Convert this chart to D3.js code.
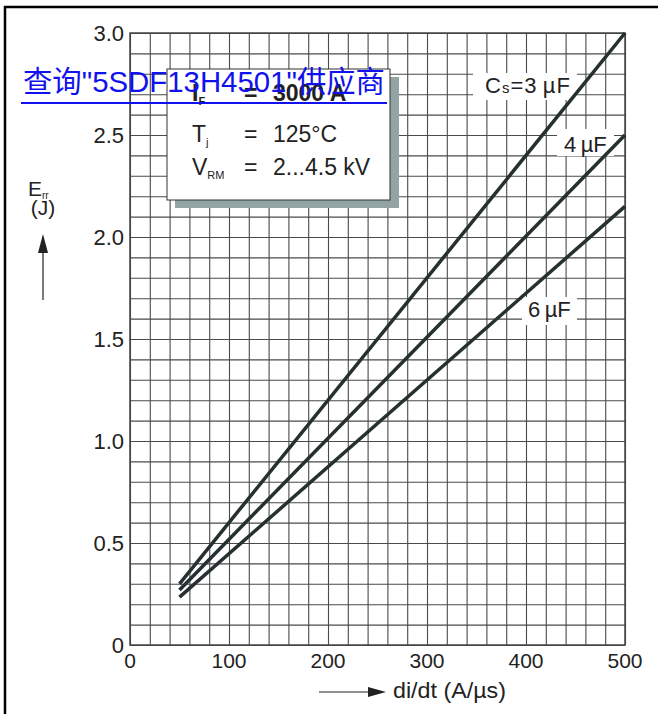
<!DOCTYPE html>
<html>
<head>
<meta charset="utf-8">
<style>
  body { margin: 0; background: #fff; }
  svg text { font-family: "Liberation Sans", Arial, sans-serif; fill: #222; }
</style>
</head>
<body>
<svg width="658" height="714"></svg>
<script src="https://d3js.org/d3.v7.min.js"></script>
<script>
// di/dt (A/us) endpoints, energy Err in J
var diDt = [50, 500];
var err3uF = [0.30, 3.0];
var err4uF = [0.27, 2.5];
var err6uF = [0.235, 2.15];
var xTicks = [0, 100, 200, 300, 400, 500];
var yTicks = [0, 0.5, 1.0, 1.5, 2.0, 2.5, 3.0];
var yTickLabels = ["0", "0.5", "1.0", "1.5", "2.0", "2.5", "3.0"];

var svg = d3.select("svg");
var pLeft = 130, pRight = 625, pTop = 33, pBottom = 645;

var x = d3.scaleLinear().domain([0, 500]).range([pLeft, pRight]);
var y = d3.scaleLinear().domain([0, 3]).range([pBottom, pTop]);

// page frame
svg.append("line").attr("x1", 5).attr("x2", 5).attr("y1", 6).attr("y2", 714)
  .attr("stroke", "#000").attr("stroke-width", 2.5);
svg.append("line").attr("x1", 4).attr("x2", 658).attr("y1", 7).attr("y2", 7)
  .attr("stroke", "#000").attr("stroke-width", 2.5);

// grid
var grid = svg.append("g");
grid.append("g").attr("transform", "translate(0," + pBottom + ")")
  .call(d3.axisBottom(x).tickValues(d3.range(0, 501, 20)).tickSize(-(pBottom - pTop)).tickFormat(""));
grid.append("g").attr("transform", "translate(" + pLeft + ",0)")
  .call(d3.axisLeft(y).tickValues(d3.range(0, 31).map(function(i) { return i / 10; })).tickSize(-(pRight - pLeft)).tickFormat(""));
grid.selectAll(".domain").remove();
grid.selectAll("line").attr("stroke", "#4a4a4a").attr("stroke-width", 1.1);
svg.append("rect").attr("x", pLeft).attr("y", pTop).attr("width", pRight - pLeft).attr("height", pBottom - pTop)
  .attr("fill", "none").attr("stroke", "#444").attr("stroke-width", 1.5);

// tick labels
svg.append("g").selectAll("text").data(xTicks).join("text")
  .attr("x", function(d) { return x(d); }).attr("y", 668)
  .attr("text-anchor", "middle").style("font-size", "21px")
  .text(function(d) { return d; });
svg.append("g").selectAll("text").data(yTicks).join("text")
  .attr("x", 124).attr("y", function(d) { return y(d) + 8; })
  .attr("text-anchor", "end").style("font-size", "22px")
  .text(function(d, i) { return yTickLabels[i]; });

// axis titles
var yt = svg.append("text").attr("x", 28).attr("y", 196).style("font-size", "21px");
yt.append("tspan").text("E");
yt.append("tspan").attr("dy", 3).style("font-size", "10px").text("rr");
svg.append("text").attr("x", 43).attr("y", 215).attr("text-anchor", "middle")
  .style("font-size", "21px").text("(J)");
svg.append("line").attr("x1", 43).attr("x2", 43).attr("y1", 300).attr("y2", 250)
  .attr("stroke", "#222").attr("stroke-width", 1.2);
svg.append("path").attr("d", "M43,234 L48,253 L38,253 Z").attr("fill", "#222");

svg.append("line").attr("x1", 319).attr("x2", 372).attr("y1", 692).attr("y2", 692)
  .attr("stroke", "#222").attr("stroke-width", 1.2);
svg.append("path").attr("d", "M386,692 L368,687 L368,697 Z").attr("fill", "#222");
svg.append("text").attr("x", 393).attr("y", 698).style("font-size", "22px")
  .attr("textLength", 113).attr("lengthAdjust", "spacingAndGlyphs").text("di/dt (A/\u00b5s)");

// curve label backgrounds
var labels = [
  { x0: 473, y0: 73, w: 104, h: 27 },
  { x0: 557, y0: 129, w: 57, h: 27 },
  { x0: 522, y0: 297, w: 55, h: 28 }
];
svg.append("g").selectAll("rect").data(labels).join("rect")
  .attr("x", function(d) { return d.x0; }).attr("y", function(d) { return d.y0; })
  .attr("width", function(d) { return d.w; }).attr("height", function(d) { return d.h; })
  .attr("fill", "#fff");

// curves
var line = d3.line().x(function(d) { return x(d[0]); }).y(function(d) { return y(d[1]); });
[err3uF, err4uF, err6uF].forEach(function(s) {
  svg.append("path").datum(diDt.map(function(v, i) { return [v, s[i]]; }))
    .attr("d", line).attr("fill", "none").attr("stroke", "#263030").attr("stroke-width", 3.5);
});

// curve labels
var c3 = svg.append("text").attr("x", 485).attr("y", 93).style("font-size", "22px")
  .attr("textLength", 85).attr("lengthAdjust", "spacing");
c3.append("tspan").text("C");
c3.append("tspan").style("font-size", "15px").text("s");
c3.append("tspan").text("=3\u2009\u00b5F");
svg.append("text").attr("x", 564).attr("y", 152).style("font-size", "22px").text("4\u2009\u00b5F");
svg.append("text").attr("x", 528).attr("y", 317).style("font-size", "22px").text("6\u2009\u00b5F");

// conditions box
svg.append("rect").attr("x", 175).attr("y", 77).attr("width", 224).attr("height", 131).attr("fill", "#93a4a5");
svg.append("rect").attr("x", 167).attr("y", 69).attr("width", 223).attr("height", 131)
  .attr("fill", "#fff").attr("stroke", "#333").attr("stroke-width", 1);

var r1 = svg.append("text").attr("x", 192).attr("y", 101).style("font-size", "23px").style("font-weight", "bold");
r1.append("tspan").text("I");
r1.append("tspan").attr("dy", 4).style("font-size", "11px").text("F");
svg.append("text").attr("x", 244).attr("y", 101).style("font-size", "23px").style("font-weight", "bold").text("=");
svg.append("text").attr("x", 273).attr("y", 101).style("font-size", "23px").style("font-weight", "bold").text("3000 A");

var r2 = svg.append("text").attr("x", 192).attr("y", 142).style("font-size", "23px");
r2.append("tspan").text("T");
r2.append("tspan").attr("dy", 4).style("font-size", "11px").text("j");
svg.append("text").attr("x", 244).attr("y", 142).style("font-size", "23px").text("=");
svg.append("text").attr("x", 273).attr("y", 142).style("font-size", "23px").text("125\u00b0C");

var r3 = svg.append("text").attr("x", 192).attr("y", 175).style("font-size", "23px");
r3.append("tspan").text("V");
r3.append("tspan").attr("dy", 4).style("font-size", "11px").text("RM");
svg.append("text").attr("x", 244).attr("y", 175).style("font-size", "23px").text("=");
svg.append("text").attr("x", 273).attr("y", 175).style("font-size", "23px").text("2...4.5 kV");

// link overlay
svg.append("text").attr("x", 23).attr("y", 92)
  .attr("textLength", 362).attr("lengthAdjust", "spacingAndGlyphs")
  .style("font-family", "\"Liberation Sans\", \"Noto Sans CJK SC\", sans-serif")
  .style("font-size", "30px").style("fill", "#1111ee")
  .text("\u67e5\u8be2\"5SDF13H4501\"\u4f9b\u5e94\u5546");
svg.append("line").attr("x1", 21).attr("x2", 387).attr("y1", 103).attr("y2", 103)
  .attr("stroke", "#1111ee").attr("stroke-width", 2);
</script>
</body>
</html>
